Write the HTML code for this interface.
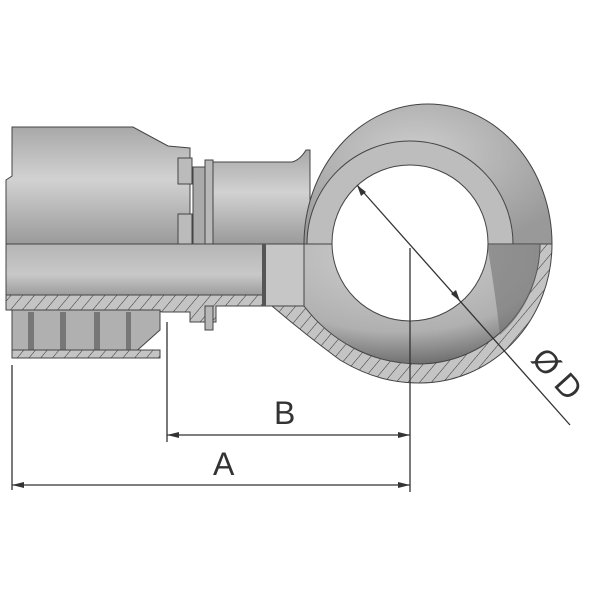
<!DOCTYPE html>
<html><head><style>body{margin:0;background:#fff}svg{display:block}</style></head><body>
<svg width="600" height="600" viewBox="0 0 600 600" xmlns="http://www.w3.org/2000/svg">
<defs>
<linearGradient id="gv" x1="0" y1="0" x2="0" y2="1">
<stop offset="0" stop-color="#a8a8a8"/><stop offset="0.45" stop-color="#d2d2d2"/><stop offset="1" stop-color="#9a9a9a"/></linearGradient>
<linearGradient id="gt" x1="0" y1="0" x2="0" y2="1">
<stop offset="0" stop-color="#b5b5b5"/><stop offset="0.6" stop-color="#c8c8c8"/><stop offset="1" stop-color="#9c9c9c"/></linearGradient>
<radialGradient id="gr" cx="0.45" cy="0.35" r="0.7">
<stop offset="0" stop-color="#cdcdcd"/><stop offset="1" stop-color="#999"/></radialGradient>
<radialGradient id="gb" cx="0.4" cy="0.1" r="0.9">
<stop offset="0" stop-color="#d0d0d0"/><stop offset="0.7" stop-color="#b0b0b0"/><stop offset="1" stop-color="#707070"/></radialGradient>
<pattern id="h" width="9" height="9" patternUnits="userSpaceOnUse" patternTransform="rotate(40)">
<rect width="9" height="9" fill="#c4c4c4"/><line x1="0" y1="0" x2="0" y2="9" stroke="#333" stroke-width="1"/></pattern>
</defs>
<!-- left socket upper -->
<path d="M6 180 L12 176 L12 127 L133 127 L168 146 L190 148 L190 244 L6 244 Z" fill="url(#gv)" stroke="#444"/>
<rect x="178" y="158" width="14" height="26" fill="#bbb" stroke="#444"/>
<rect x="178" y="214" width="14" height="30" fill="#bbb" stroke="#444"/>
<rect x="193" y="167" width="12" height="77" fill="#aaa" stroke="#444"/>
<rect x="205" y="160" width="8" height="84" fill="#b8b8b8" stroke="#444"/>
<path d="M213 162 L292 162 Q300 160 306 150 L310 150 L310 244 L213 244 Z" fill="url(#gv)" stroke="#444"/>
<!-- ring outer upper -->
<path d="M304 244 A124 140 0 0 1 552 244 Z" fill="url(#gr)" stroke="#444"/>
<path d="M307 244 A103 103 0 0 1 513 244 Z" fill="#bdbdbd" stroke="#444"/>
<!-- lower section -->
<rect x="6" y="244" width="260" height="51" fill="url(#gt)" stroke="#444"/>
<path d="M6 295 L264 295 L264 306 L272 306 C300 330 320 345 340 360 C370 378 395 383 420 383 A132 139 0 0 0 552 244 L304 244 L304 306 L266 306 L216 306 L216 322 L190 322 L190 312 L162 312 L154 310 L6 310 Z" fill="url(#h)" stroke="#444"/>
<path d="M304 244 L540 244 A122 120 0 0 1 420 364 C370 364 330 340 304 306 Z" fill="url(#gb)" stroke="#444"/>
<path d="M487 244 L540 244 A122 120 0 0 1 500 335 Q495 290 487 244 Z" fill="#6e6e6e" opacity="0.55"/>
<rect x="264" y="244" width="40" height="62" fill="#c6c6c6" stroke="#444"/>
<rect x="262" y="244" width="4" height="62" fill="#555"/>
<!-- socket ribs -->
<path d="M12 310 L160 310 L160 330 L132 355 L12 358 Z" fill="#b0b0b0" stroke="#444"/>
<g fill="#777"><rect x="28" y="312" width="6" height="42"/><rect x="60" y="312" width="6" height="42"/><rect x="94" y="312" width="6" height="42"/><rect x="126" y="312" width="5" height="42"/></g>
<rect x="12" y="350" width="148" height="8" fill="url(#h)" stroke="#444"/>
<rect x="205" y="306" width="8" height="24" fill="#b8b8b8" stroke="#444"/>
<!-- hole -->
<circle cx="410" cy="243" r="78" fill="#fff" stroke="#444"/>
<!-- dims -->
<g stroke="#333" stroke-width="1.3" fill="none">
<line x1="12" y1="365" x2="12" y2="490"/>
<line x1="167" y1="322" x2="167" y2="442"/>
<line x1="410" y1="248" x2="410" y2="492"/>
<line x1="12" y1="485" x2="410" y2="485"/>
<line x1="167" y1="435" x2="410" y2="435"/>
<line x1="357" y1="185" x2="570" y2="425"/>
</g>
<g fill="#333">
<path d="M12 485 l12 -3 v6z"/><path d="M410 485 l-12 -3 v6z"/>
<path d="M167 435 l12 -3 v6z"/><path d="M410 435 l-12 -3 v6z"/>
<path d="M357 185 l4 11 l5 -4z"/><path d="M460 301 l-4 -11 l-5 4z"/>
</g>
<g font-family="Liberation Sans, sans-serif" font-size="32" fill="#333">
<text x="274" y="424">B</text>
<text x="213" y="475">A</text>
<text transform="translate(530,360) rotate(48)">Ø D</text>
</g>
</svg>
</body></html>
